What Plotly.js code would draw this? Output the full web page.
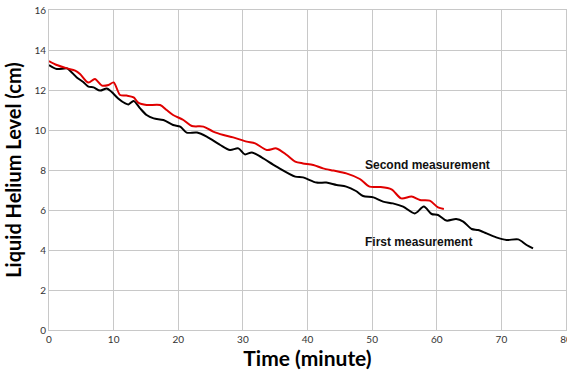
<!DOCTYPE html>
<html><head><meta charset="utf-8">
<script src="https://cdn.plot.ly/plotly-3.0.1.min.js"></script>
<style>html,body{margin:0;padding:0;background:#fff}#c{width:567px;height:372px}</style>
</head><body><div id="c"></div>
<script>
const firstTime = [0,1.2,2.8,3.3,4.3,5.3,6.1,6.9,7.9,8.95,9.7,10.7,11.8,12.3,13.1,14.1,15.1,16.2,17.7,19.2,20.3,21.3,22.9,24.4,26.5,28,29.3,30.3,31.4,32.9,35.2,38.1,39.3,41.4,42.9,44.5,46,47.5,48.6,50.2,51.7,53.2,54.8,56.6,58,59.2,60.2,61.5,63,64.1,65.4,66.4,67.7,69.2,70.8,72.6,73.9,74.9];
const firstLevel = [13.25,13.05,13.08,12.95,12.63,12.4,12.17,12.13,11.97,12.08,11.9,11.58,11.33,11.28,11.45,11.08,10.75,10.58,10.5,10.25,10.17,9.87,9.87,9.67,9.25,9.0,9.08,8.78,8.88,8.63,8.17,7.67,7.63,7.37,7.37,7.25,7.17,6.95,6.7,6.63,6.42,6.33,6.17,5.83,6.17,5.8,5.75,5.47,5.55,5.42,5.05,5.0,4.83,4.63,4.5,4.53,4.25,4.08];
const secondTime = [0,1.2,2.8,4.05,4.8,6.1,7.1,8.2,9.2,10,11,12,13.1,13.8,15.1,17.2,18.2,19.2,20.8,22.1,23.9,25.4,27,28.5,30.6,31.9,33.7,35.2,36.8,38.1,39.3,40.9,42.4,44,46,48.1,49.6,51.2,53,54.5,56.1,57.4,58.9,60.2,61.1];
const secondLevel = [13.45,13.25,13.08,12.97,12.8,12.37,12.55,12.22,12.25,12.38,11.75,11.72,11.63,11.37,11.25,11.25,11.0,10.75,10.5,10.2,10.17,9.92,9.75,9.63,9.42,9.33,9.0,9.08,8.75,8.42,8.33,8.25,8.08,7.97,7.83,7.55,7.17,7.15,7.03,6.58,6.67,6.5,6.47,6.13,6.05];
const seriesNames = ["First measurement","Second measurement"];
const xTicks = [0,10,20,30,40,50,60,70,80];
const yTicks = [0,2,4,6,8,10,12,14,16];

const traces = [
  {x:firstTime, y:firstLevel, name:seriesNames[0], mode:'lines', line:{color:'#000000', width:2, shape:'spline', smoothing:0.8}},
  {x:secondTime, y:secondLevel, name:seriesNames[1], mode:'lines', line:{color:'#e00000', width:2, shape:'spline', smoothing:0.8}}
];
const gridC = '#c8c8c8';
const layout = {
  width:567, height:372,
  margin:{l:49, r:1, t:10, b:42},
  paper_bgcolor:'#fff', plot_bgcolor:'#fff',
  showlegend:false,
  font:{family:'Liberation Sans, Arial, sans-serif', color:'#333'},
  xaxis:{range:[0,80], tickvals:xTicks, ticktext:xTicks.map(String), showgrid:true, gridcolor:gridC, gridwidth:1,
    zeroline:false, showline:true, linecolor:gridC, mirror:true, ticks:'', ticklabeloverflow:'allow',
    tickfont:{size:10, family:'Lato, sans-serif', color:'#333'},
    title:{text:'Time (minute)', font:{size:21, family:'Lato, sans-serif', color:'#000', weight:'bold'}, standoff:3}},
  yaxis:{range:[0,16], tickvals:yTicks, ticktext:yTicks.map(String), showgrid:true, gridcolor:gridC, gridwidth:1,
    zeroline:false, showline:true, linecolor:gridC, mirror:true, ticks:'', tickfont:{size:10, family:'Lato, sans-serif', color:'#333'},
    title:{text:'Liquid Helium Level (cm)', font:{size:20, family:'Lato, sans-serif', color:'#000', weight:'bold'}, standoff:7}},
  annotations:[
    {x:48.6, y:8.25, xref:'x', yref:'y', text:'<b>'+seriesNames[1]+'</b>', showarrow:false, xanchor:'left', yanchor:'middle', font:{size:12, family:'Liberation Sans, Arial, sans-serif', color:'#111'}},
    {x:48.6, y:4.4, xref:'x', yref:'y', text:'<b>'+seriesNames[0]+'</b>', showarrow:false, xanchor:'left', yanchor:'middle', font:{size:12, family:'Liberation Sans, Arial, sans-serif', color:'#111'}}
  ]
};
Plotly.newPlot('c', traces, layout, {displayModeBar:false, staticPlot:true});
</script></body></html>
